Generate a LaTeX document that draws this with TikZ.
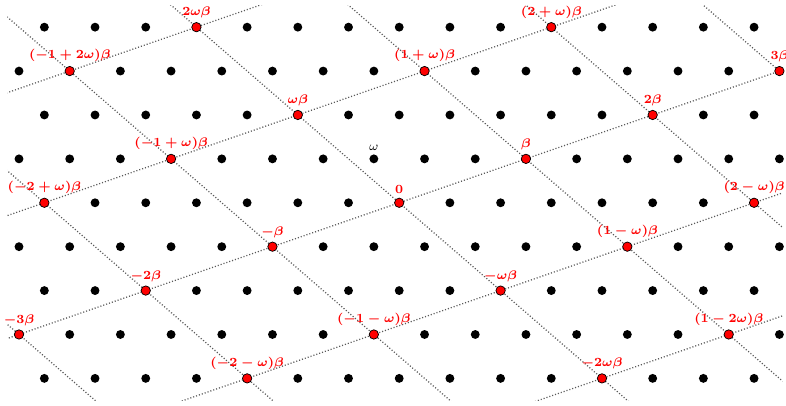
\documentclass[tikz,border=0pt]{standalone}
\begin{document}
\begin{tikzpicture}[
  latdot/.style={circle,fill=black,inner sep=0pt,minimum size=1.75mm},
  reddot/.style={circle,fill=red,draw=black,line width=0.4pt,inner sep=0pt,minimum size=1.85mm,
     label={[text=red,font=\scriptsize\boldmath,inner sep=2pt]above:#1}},
  blacklabel/.style={above,inner sep=2pt,font=\scriptsize},
  gridline/.style={draw=black!65,line width=0.7pt,dash pattern=on 0.6pt off 1.1pt}
]
\useasboundingbox (-7.875,-4.0) rectangle (7.63,4.0);
% Eisenstein lattice points
\foreach \n in {-4,...,4}{
  \pgfmathtruncatemacro\lo{ceil(\n/2-7.5)}
  \pgfmathtruncatemacro\hi{floor(\n/2+7.5)}
  \foreach \m in {\lo,...,\hi}{
    \node[latdot] (lat\m_\n) at ({\m-\n/2},{\n*0.8660254}) {};
  }
}
\node[blacklabel] (omegalabel) at (lat0_1.north) {$\omega$};
% dotted lines of the sublattice beta*Z[omega]
\begin{scope}
  \clip (-7.73,-3.9) rectangle (7.56,3.9);
  \begin{scope}[x={(2.5cm,0.8660254cm)},y={(-2cm,1.7320508cm)}]
    \foreach \k in {-2,...,2}{
      \coordinate (bs\k) at (-5,\k);
      \coordinate (be\k) at (5,\k);
      \draw[gridline] (bs\k) -- (be\k);
    }
    \foreach \k in {-3,...,3}{
      \coordinate (ws\k) at (\k,-5);
      \coordinate (we\k) at (\k,5);
      \draw[gridline] (ws\k) -- (we\k);
    }
  \end{scope}
\end{scope}
% multiples of beta
\begin{scope}[x={(2.5cm,0.8660254cm)},y={(-2cm,1.7320508cm)}]
  \node[reddot={$2\omega\beta$}] (r0_2) at (0,2) {};
  \node[reddot={$(2+\omega)\beta$}] (r2_1) at (2,1) {};
  \node[reddot={$(-1+2\omega)\beta$}] (rm1_2) at (-1,2) {};
  \node[reddot={$(1+\omega)\beta$}] (r1_1) at (1,1) {};
  \node[reddot={$3\beta$}] (r3_0) at (3,0) {};
  \node[reddot={$\omega\beta$}] (r0_1) at (0,1) {};
  \node[reddot={$2\beta$}] (r2_0) at (2,0) {};
  \node[reddot={$(-1+\omega)\beta$}] (rm1_1) at (-1,1) {};
  \node[reddot={$\beta$}] (r1_0) at (1,0) {};
  \node[reddot={$(-2+\omega)\beta$}] (rm2_1) at (-2,1) {};
  \node[reddot={$0$}] (r0_0) at (0,0) {};
  \node[reddot={$(2-\omega)\beta$}] (r2_m1) at (2,-1) {};
  \node[reddot={$-\beta$}] (rm1_0) at (-1,0) {};
  \node[reddot={$(1-\omega)\beta$}] (r1_m1) at (1,-1) {};
  \node[reddot={$-2\beta$}] (rm2_0) at (-2,0) {};
  \node[reddot={$-\omega\beta$}] (r0_m1) at (0,-1) {};
  \node[reddot={$-3\beta$}] (rm3_0) at (-3,0) {};
  \node[reddot={$(-1-\omega)\beta$}] (rm1_m1) at (-1,-1) {};
  \node[reddot={$(1-2\omega)\beta$}] (r1_m2) at (1,-2) {};
  \node[reddot={$(-2-\omega)\beta$}] (rm2_m1) at (-2,-1) {};
  \node[reddot={$-2\omega\beta$}] (r0_m2) at (0,-2) {};
\end{scope}
\end{tikzpicture}
\end{document}
